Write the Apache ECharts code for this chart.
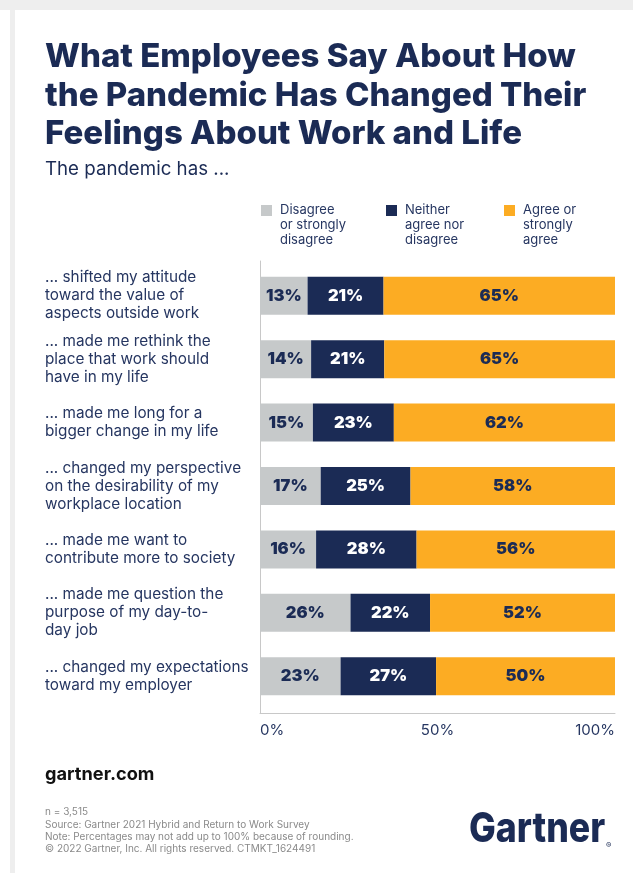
<!DOCTYPE html>
<html>
<head>
<meta charset="utf-8">
<script src="https://cdn.jsdelivr.net/npm/echarts@6/dist/echarts.min.js"></script>
<style>
html,body{margin:0;padding:0;background:#fff;}
#chart{width:633px;height:873px;}
</style>
</head>
<body>
<div id="chart"></div>
<script>
var categories = [
  "... shifted my attitude\ntoward the value of\naspects outside work",
  "... made me rethink the\nplace that work should\nhave in my life",
  "... made me long for a\nbigger change in my life",
  "... changed my perspective\non the desirability of my\nworkplace location",
  "... made me want to\ncontribute more to society",
  "... made me question the\npurpose of my day-to-\nday job",
  "... changed my expectations\ntoward my employer"
];
var seriesNames = ["Disagree\nor strongly\ndisagree", "Neither\nagree nor\ndisagree", "Agree or\nstrongly\nagree"];
var disagree = [13.4, 14.4, 14.9, 17.1, 15.8, 25.5, 22.7];
var neither  = [21.4, 20.6, 22.8, 25.3, 28.3, 22.4, 26.9];
var agree    = [65.2, 65.0, 62.3, 57.6, 55.9, 52.1, 50.4];
var xTicks = [0, 50, 100];

var NAVY = '#1b2b55', GRAY = '#c6c9ca', ORANGE = '#fcac23', TEXT = '#263661';
var FONT = 'Inter';

var chart = echarts.init(document.getElementById('chart'));

function barSeries(name, data, color, labelColor) {
  return {
    name: name, type: 'bar', stack: 'all', data: data,
    xAxisIndex: 0, yAxisIndex: 0,
    barWidth: 38,
    itemStyle: { color: color },
    label: {
      show: true, position: 'inside', color: labelColor,
      fontFamily: FONT, fontWeight: 900, fontSize: 16.5,
      formatter: function (p) { return Math.round(p.value) + '%'; }
    },
    emphasis: { disabled: true }
  };
}

function legendAt(left, name) {
  return {
    left: left, top: 173, padding: 0,
    data: [name], icon: 'rect', itemWidth: 11, itemHeight: 11,
    selectedMode: false,
    formatter: function (n) { return '\n\n' + n; },
    textStyle: { color: TEXT, fontFamily: FONT, fontSize: 13, lineHeight: 15, padding: [0, 0, 0, 3] }
  };
}

chart.setOption({
  animation: false,
  color: [GRAY, NAVY, ORANGE],
  legend: [legendAt(261, seriesNames[0]), legendAt(386, seriesNames[1]), legendAt(504, seriesNames[2])],
  grid: [
    { left: 260, right: 18, top: 264, bottom: 165 },
    { left: 260, right: 18, top: 261, bottom: 160 }
  ],
  xAxis: [
    { gridIndex: 0, type: 'value', min: 0, max: 100, show: false },
    { gridIndex: 1, type: 'value', min: xTicks[0], max: xTicks[xTicks.length - 1], interval: xTicks[1] - xTicks[0],
      axisLine: { show: true, lineStyle: { color: '#c8c8c8', width: 1 } },
      axisTick: { show: false }, splitLine: { show: false },
      axisLabel: { formatter: '{value}%', color: TEXT, fontFamily: FONT, fontSize: 15, margin: 10,
        alignMinLabel: 'left', alignMaxLabel: 'right' } }
  ],
  yAxis: [
    { gridIndex: 0, type: 'category', inverse: true, data: categories,
      axisLine: { show: false }, axisTick: { show: false },
      axisLabel: { align: 'left', margin: 215, color: TEXT, fontFamily: FONT, fontSize: 15.3, lineHeight: 18 } },
    { gridIndex: 1, type: 'value', min: 0, max: 1,
      axisLine: { show: true, lineStyle: { color: '#c8c8c8', width: 1 } },
      axisTick: { show: false }, axisLabel: { show: false }, splitLine: { show: false } }
  ],
  series: [
    barSeries(seriesNames[0], disagree, GRAY, NAVY),
    barSeries(seriesNames[1], neither, NAVY, '#ffffff'),
    barSeries(seriesNames[2], agree, ORANGE, NAVY)
  ],
  graphic: [
    { type: 'rect', shape: { x: 0, y: 0, width: 633, height: 10 }, style: { fill: '#eeeeee' }, silent: true },
    { type: 'rect', shape: { x: 10, y: 10, width: 5, height: 863 }, style: { fill: '#eeeeee' }, silent: true },
    { type: 'text', left: 45, top: 38, style: {
        text: 'What Employees Say About How\nthe Pandemic Has Changed Their\nFeelings About Work and Life',
        fill: NAVY, fontFamily: FONT, fontWeight: 800, fontSize: 33, lineHeight: 38.5 } },
    { type: 'text', left: 45, top: 160, style: { text: 'The pandemic has ...', fill: NAVY, fontFamily: FONT, fontSize: 18.7 } },
    { type: 'text', left: 45, top: 766, style: { text: 'gartner.com', fill: '#111111', fontFamily: FONT, fontWeight: 700, fontSize: 18.2 } },
    { type: 'text', left: 45, top: 806, style: {
        text: 'n = 3,515\nSource: Gartner 2021 Hybrid and Return to Work Survey\nNote: Percentages may not add up to 100% because of rounding.\n\u00a9 2022 Gartner, Inc. All rights reserved. CTMKT_1624491',
        fill: '#8a8a8a', fontFamily: FONT, fontSize: 10, lineHeight: 12.4 } },
    { type: 'text', x: 469, y: 809, scaleX: 0.87, style: { text: 'Gartner', fill: NAVY, fontFamily: FONT, fontWeight: 800, fontSize: 41 } },
    { type: 'text', left: 606, top: 842, style: { text: '\u00ae', fill: NAVY, fontFamily: FONT, fontSize: 8 } }
  ]
});
</script>
</body>
</html>
